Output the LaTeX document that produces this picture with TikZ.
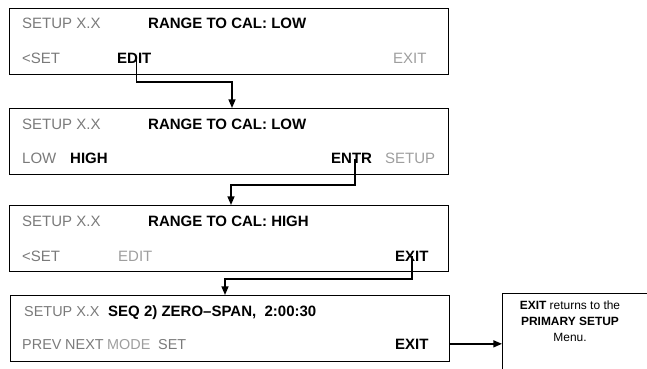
\documentclass[tikz,border=0pt]{standalone}
\usepackage{fontspec}
\setmainfont{Liberation Sans}
\usetikzlibrary{arrows.meta}
\definecolor{softgray}{gray}{0.48}
\definecolor{palegray}{gray}{0.62}

\begin{document}
\begin{tikzpicture}[x=0.03cm, y=-0.03cm,
	screen/.style={draw, line width=0.9pt, anchor=north west, minimum width=13.17cm, minimum height=1.98cm, inner sep=0pt},
	txt/.style={anchor=base west, inner sep=0pt, font=\fontsize{12.8}{15}\selectfont},
	key/.style={txt, font=\fontsize{12.8}{15}\selectfont\bfseries},
	dim/.style={txt, text=softgray},
	off/.style={txt, text=palegray},
	small/.style={font=\fontsize{12.3}{14}\selectfont},
	flow/.style={line width=1.2pt, -{Triangle[length=0.26cm, width=0.21cm]}}]
		\useasboundingbox (0,0) rectangle (647,369);
		\clip (0,0) rectangle (647,369);
		
		% 屏幕 1
		\node[screen] (scr1) at (9,8) {};
		\node[dim] (hdr1) at (22,29) {SETUP X.X};
		\node[key] (msg1) at (148,29) {RANGE TO CAL: LOW};
		\node[dim] (set1) at (22,64) {<SET};
		\node[key] (edit1) at (117,64) {EDIT};
		\node[off] (exit1) at (393,64) {EXIT};
		
		% 屏幕 2
		\node[screen] (scr2) at (9,108) {};
		\node[dim] (hdr2) at (22,129) {SETUP X.X};
		\node[key] (msg2) at (148,129) {RANGE TO CAL: LOW};
		\node[dim] (low2) at (22,164) {LOW};
		\node[key] (high2) at (70,164) {HIGH};
		\node[key] (entr2) at (331,164) {ENTR};
		\node[off] (setup2) at (385,164) {SETUP};
		
		% 屏幕 3
		\node[screen] (scr3) at (9,205) {};
		\node[dim] (hdr3) at (22,226) {SETUP X.X};
		\node[key] (msg3) at (148,226) {RANGE TO CAL: HIGH};
		\node[dim] (set3) at (22,261) {<SET};
		\node[off] (edit3) at (118,261) {EDIT};
		\node[key] (exit3) at (395,261) {EXIT};
		
		% 屏幕 4
		\node[screen] (scr4) at (10,295) {};
		\node[dim, small] (hdr4) at (24,316) {SETUP X.X};
		\node[key] (msg4) at (108,316) {SEQ 2) ZERO–SPAN,\ \ 2:00:30};
		\node[dim, small] (prev4) at (22,349) {PREV};
		\node[dim, small] (next4) at (65,349) {NEXT};
		\node[off, small] (mode4) at (107,349) {MODE};
		\node[dim, small] (set4) at (158,349) {SET};
		\node[key] (exit4) at (395,349) {EXIT};
		
		% 说明
		\node[draw, line width=0.9pt, anchor=north west, minimum width=4.9cm, minimum height=2.8cm] (notebox) at (502,293) {};
		\node[align=center, anchor=north, inner sep=0pt, font=\fontsize{10.2}{13.4}\selectfont] (notetext) at (570,301) {\textbf{EXIT} returns to the\\\textbf{PRIMARY SETUP}\\Menu.};
		
		% 连线
		\coordinate (k1) at (232,82);
		\coordinate (k2) at (231,185);
		\coordinate (k3) at (225,279);
		\draw[flow] ([xshift=2pt]edit1.center) |- (k1) -- (k1 |- scr2.north);
		\draw[flow] ([xshift=3pt]entr2.center) |- (k2) -- (k2 |- scr3.north);
		\draw[flow] (exit3.center) |- (k3) -- (k3 |- scr4.north);
		\draw[flow] (exit4.center -| scr4.east) -- (exit4.center -| notebox.west);
	\end{tikzpicture}
\end{document}
